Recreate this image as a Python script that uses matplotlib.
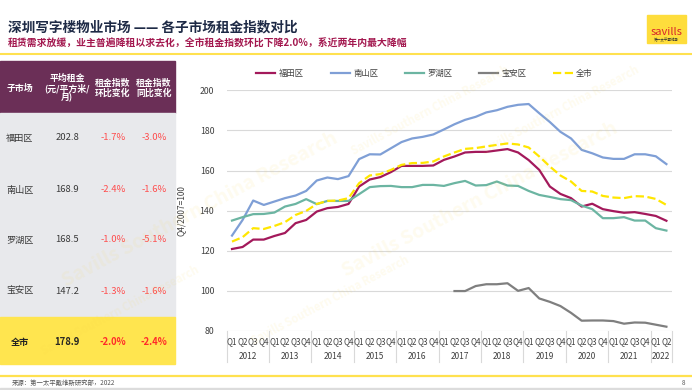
import numpy as np
import matplotlib
matplotlib.use('Agg')
import matplotlib.pyplot as plt
from matplotlib.patches import Rectangle
from matplotlib.transforms import blended_transform_factory

plt.rcParams['font.family'] = ['Noto Sans CJK SC', 'DejaVu Sans']

# ---- datos del gráfico ----
years = ['2012', '2013', '2014', '2015', '2016', '2017', '2018', '2019', '2020', '2021', '2022']
quarters = ['Q1', 'Q2', 'Q3', 'Q4'] * 10 + ['Q1', 'Q2']

futian = [120.8, 121.8, 125.5, 125.5, 127.3, 128.8, 133.7, 135.3, 139.5, 141.2, 141.8, 143.3,
          152.0, 155.5, 156.7, 159.2, 162.3, 162.3, 162.3, 162.5, 165.3, 167.0, 169.0, 169.3,
          169.3, 170.0, 170.7, 169.0, 165.2, 160.3, 152.0, 148.3, 146.2, 142.0, 143.4, 140.7,
          139.7, 138.9, 139.2, 138.3, 137.3, 134.9]
nanshan = [127.5, 135.3, 145.0, 142.8, 144.5, 146.2, 147.5, 149.8, 155.0, 156.5, 155.7, 157.2,
           165.7, 168.1, 168.0, 171.1, 174.2, 176.0, 176.8, 178.0, 180.5, 183.1, 185.3, 186.8,
           189.0, 190.1, 191.8, 192.8, 193.2, 188.6, 184.2, 179.3, 176.0, 170.3, 168.6, 166.5,
           165.8, 165.8, 168.1, 168.1, 167.1, 163.2]
luohu = [135.0, 136.7, 138.2, 138.3, 139.0, 142.0, 143.3, 145.7, 143.2, 144.8, 144.8, 144.8,
         148.2, 151.7, 152.2, 152.3, 151.7, 151.7, 152.8, 152.8, 152.3, 153.7, 154.8, 152.5,
         152.7, 154.5, 152.5, 152.3, 149.8, 147.8, 146.8, 145.7, 145.2, 142.5, 140.7, 136.2,
         136.2, 136.7, 135.0, 135.0, 131.2, 130.0]
baoan = [np.nan] * 21 + [99.8, 99.8, 102.3, 103.2, 103.2, 103.7, 99.9, 101.3, 96.1, 94.4, 92.3,
                         88.9, 85.0, 85.1, 85.1, 84.8, 83.5, 84.1, 84.0, 83.0, 82.0]
quanshi = [124.5, 126.7, 131.2, 130.8, 132.3, 134.2, 137.8, 139.8, 143.3, 144.8, 145.0, 146.2,
           153.7, 157.5, 158.2, 160.3, 162.8, 163.7, 163.8, 164.5, 167.0, 169.0, 170.8, 171.2,
           172.0, 172.8, 173.5, 173.0, 171.5, 167.0, 162.0, 157.5, 154.5, 149.8, 149.5, 147.3,
           146.5, 146.2, 147.2, 147.0, 145.8, 142.8]
series_names = ['福田区', '南山区', '罗湖区', '宝安区', '全市']

# ---- datos de la tabla ----
tbl_headers = ['子市场', '平均租金\n(元/平方米/\n月)', '租金指数\n环比变化', '租金指数\n同比变化']
districts = ['福田区', '南山区', '罗湖区', '宝安区', '全市']
avg_rent = ['202.8', '168.9', '168.5', '147.2', '178.9']
qoq = ['-1.7%', '-2.4%', '-1.0%', '-1.3%', '-2.0%']
yoy = ['-3.0%', '-1.6%', '-5.1%', '-1.6%', '-2.4%']

fig = plt.figure(figsize=(6.92, 3.9), dpi=100)

# ---- fondo en coordenadas de píxel ----
bg = fig.add_axes([0, 0, 1, 1])
bg.set_xlim(0, 692)
bg.set_ylim(390, 0)
bg.axis('off')

bg.text(8, 27, '深圳写字楼物业市场 —— 各子市场租金指数对比', fontsize=9.8, fontweight='bold',
        color='#1e2a46', va='center', ha='left')
bg.text(8, 44, '租赁需求放缓，业主普遍降租以求去化，全市租金指数环比下降2.0%，系近两年内最大降幅',
        fontsize=7.1, fontweight='bold', color='#a3184f', va='center', ha='left')
bg.plot([0, 692], [53.5, 53.5], color='#ffe14f', lw=1.5)

# logo
bg.add_patch(Rectangle((647, 15), 39, 28, color='#fedd3c'))
bg.text(666.5, 32, 'savills', fontsize=8, color='#d8262b', ha='center', va='center')
bg.text(666.5, 40, '第一太平戴维斯', fontsize=2.6, color='#333333', ha='center', va='center')

# tabla
bg.add_patch(Rectangle((0, 61), 175, 52, color='#6b2f57'))
bg.add_patch(Rectangle((0, 113), 175, 204, color='#e8e9ec'))
bg.add_patch(Rectangle((0, 317), 175, 47, color='#ffe54f'))
col_x = [20, 67, 113, 154]
for cx, h in zip(col_x, tbl_headers):
    bg.text(cx, 88, h, fontsize=6.4, fontweight='bold', color='white', ha='center', va='center',
            linespacing=1.05)
row_y = [138, 190, 240, 291, 342]
for i, ry in enumerate(row_y):
    last = i == len(row_y) - 1
    fw = 'bold' if last else 'normal'
    bg.text(col_x[0], ry, districts[i], fontsize=6.6, color='#222222' if last else '#3a3a3a',
            ha='center', va='center', fontweight=fw)
    bg.text(col_x[1], ry, avg_rent[i], fontsize=6.8, color='#222222' if last else '#3a3a3a',
            ha='center', va='center', fontweight=fw)
    bg.text(col_x[2], ry, qoq[i], fontsize=6.8, color='#ff2a2a' if last else '#ff4d4d',
            ha='center', va='center', fontweight=fw)
    bg.text(col_x[3], ry, yoy[i], fontsize=6.8, color='#ff2a2a' if last else '#ff4d4d',
            ha='center', va='center', fontweight=fw)

# pie de página
bg.plot([0, 692], [375.5, 375.5], color='#ffe14f', lw=1.6)
bg.text(12, 383, '来源：第一太平戴维斯研究部，2022', fontsize=4.6, style='italic',
        color='#555555', ha='left', va='center')
bg.text(683, 383, '8', fontsize=4.6, color='#555555', ha='center', va='center')
bg.add_patch(Rectangle((0, 388), 692, 2, color='#dcdcdc'))

# ---- gráfico de líneas ----
ax = fig.add_axes([226.7 / 692, 1 - 330.7 / 390, 445 / 692, 240.3 / 390])
ax.set_facecolor('none')
x = np.arange(len(quarters))
colors = ['#a3195b', '#7f9fd6', '#6cb5a2', '#7f7f7f', '#ffe600']
data = [futian, nanshan, luohu, baoan, quanshi]
for name, ys, c in zip(series_names, data, colors):
    ls = '--' if name == '全市' else '-'
    ax.plot(x, ys, color=c, lw=1.6, ls=ls, label=name, zorder=3)

ax.set_xlim(-0.5, len(quarters) - 0.5)
ax.set_ylim(80, 200)
ax.set_yticks(np.arange(80, 201, 20))
ax.tick_params(axis='y', length=0, labelsize=6.3, labelcolor='#404040', pad=9)
ax.set_xticks([])
ax.grid(axis='y', color='#d9d9d9', lw=0.8)
for s in ax.spines.values():
    s.set_visible(False)
ax.set_ylabel('Q4/2007=100', fontsize=6, color='#404040', labelpad=10)

tr = blended_transform_factory(ax.transData, ax.transAxes)
for i, q in enumerate(quarters):
    ax.text(i, -0.046, q, transform=tr, fontsize=5.8, color='#404040', ha='center', va='center')
for k, yr in enumerate(years):
    start = k * 4
    end = min(start + 4, len(quarters))
    ax.text((start + end - 1) / 2, -0.106, yr, transform=tr, fontsize=6, color='#404040',
            ha='center', va='center')
for b in range(0, len(quarters) + 1, 4):
    xb = min(b, len(quarters)) - 0.5
    ax.plot([xb, xb], [0, -0.13], transform=tr, color='#d9d9d9', lw=0.8, clip_on=False)
ax.plot([len(quarters) - 0.5] * 2, [0, -0.13], transform=tr, color='#d9d9d9', lw=0.8,
        clip_on=False)

leg = ax.legend(loc='center', bbox_to_anchor=(0.4445, 1.07), ncol=5, frameon=False,
                fontsize=6, handlelength=2.3, columnspacing=3.2, handletextpad=0.4)
for t in leg.get_texts():
    t.set_color('#404040')

# ---- marca de agua ----
wm = fig.add_axes([0, 0, 1, 1])
wm.set_xlim(0, 692)
wm.set_ylim(390, 0)
wm.axis('off')
for (wx, wy, fs) in [(200, 210, 14), (480, 200, 14), (330, 300, 8), (560, 110, 8),
                     (120, 310, 8), (430, 110, 8)]:
    wm.text(wx, wy, 'Savills Southern China Research', fontsize=fs, fontweight='bold',
            color='#f5d24a', alpha=0.09, rotation=28, ha='center', va='center')

fig.savefig('out.png', dpi=100)
